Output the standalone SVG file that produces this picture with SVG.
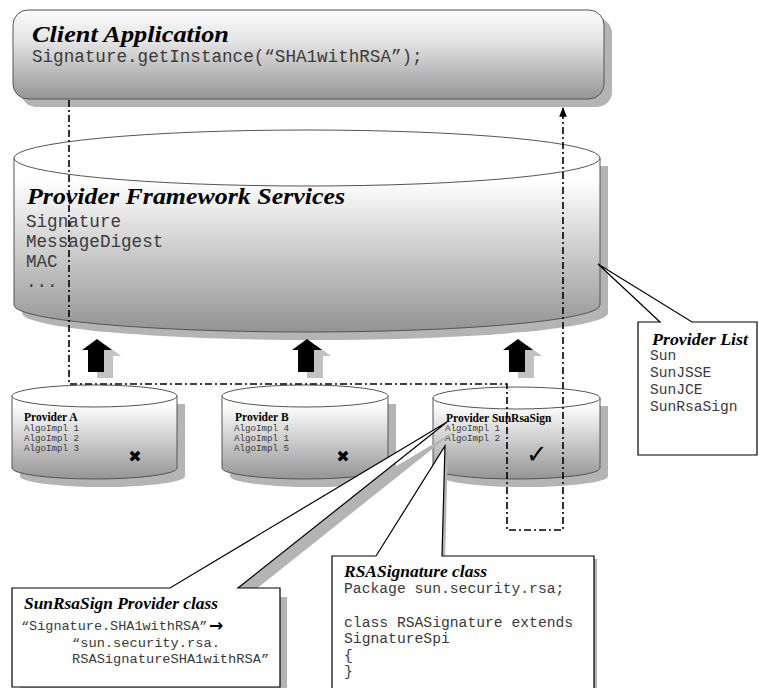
<svg xmlns="http://www.w3.org/2000/svg" width="759" height="688" viewBox="0 0 759 688">
  <defs>
    <style>
      .title { font-family: "Liberation Serif", "DejaVu Serif", serif; font-style: italic; font-weight: bold; fill: #000; }
      .ptitle { font-family: "Liberation Serif", "DejaVu Serif", serif; font-weight: bold; fill: #000; }
      .mono { font-family: "Liberation Mono", "DejaVu Sans Mono", monospace; fill: #3a3a3a; }
      .edge { stroke: #555; stroke-width: 1; }
      .shadow { fill: #b4b4b4; stroke: none; }
      .callout { fill: #fff; stroke: #000; stroke-width: 1.2; }
      .flow { fill: none; stroke: #000; stroke-width: 1.6; stroke-dasharray: 7 3 2 3; }
      .block { fill: #000; }
      .blockShadow { fill: #c2c2c2; }
      .mark { font-family: "DejaVu Sans", sans-serif; font-weight: bold; fill: #000; }
    </style>
    <linearGradient id="gClient" x1="0" y1="0" x2="0" y2="1">
      <stop offset="0" stop-color="#fbfbfb"/>
      <stop offset="0.35" stop-color="#e4e4e4"/>
      <stop offset="1" stop-color="#959595"/>
    </linearGradient>
    <linearGradient id="gFramework" gradientUnits="userSpaceOnUse" x1="0" y1="180" x2="0" y2="332">
      <stop offset="0" stop-color="#ffffff"/>
      <stop offset="1" stop-color="#939393"/>
    </linearGradient>
    <linearGradient id="gProvider" gradientUnits="userSpaceOnUse" x1="0" y1="405" x2="0" y2="479">
      <stop offset="0" stop-color="#ffffff"/>
      <stop offset="1" stop-color="#959595"/>
    </linearGradient>
    <marker id="headUp" viewBox="0 0 10 10" refX="9" refY="5" markerWidth="6" markerHeight="6" orient="auto" markerUnits="strokeWidth">
      <path d="M0,1 L10,5 L0,9 z" fill="#000"/>
    </marker>
  </defs>

  <!-- Client application -->
  <g id="client-application">
    <rect x="21" y="18" width="591" height="89" rx="15" ry="15" class="shadow"/>
    <rect x="13" y="10" width="591" height="89" rx="15" ry="15" fill="url(#gClient)" class="edge"/>
    <text x="32" y="42" class="title" font-size="24" textLength="197" lengthAdjust="spacingAndGlyphs">Client Application</text>
    <text x="32" y="62" class="mono" font-size="17.6">Signature.getInstance(“SHA1withRSA”);</text>
  </g>

  <!-- Provider framework services (large cylinder) -->
  <g id="provider-framework">
    <path d="M22,166 V313 A293,27 0 0 0 608,313 V166 Z" class="shadow"/>
    <path d="M14,158 V305 A293,27 0 0 0 600,305 V158 Z" fill="url(#gFramework)" class="edge"/>
    <ellipse cx="307" cy="158" rx="293" ry="28" fill="#fff" class="edge"/>
    <text x="27" y="204" class="title" font-size="24" textLength="318" lengthAdjust="spacingAndGlyphs">Provider Framework Services</text>
    <text x="26" y="227" class="mono" font-size="17.6">Signature</text>
    <text x="26" y="247" class="mono" font-size="17.6">MessageDigest</text>
    <text x="26" y="267" class="mono" font-size="17.6">MAC</text>
    <text x="26" y="287" class="mono" font-size="17.6">...</text>
  </g>

  <!-- Provider A -->
  <g id="provider-a">
    <path d="M20,404 V476 A82.5,11 0 0 0 185,476 V404 Z" class="shadow"/>
    <path d="M12,396 V468 A82.5,11 0 0 0 177,468 V396 Z" fill="url(#gProvider)" class="edge"/>
    <ellipse cx="94.5" cy="396" rx="82.5" ry="11" fill="#fff" class="edge"/>
    <text x="24" y="421" class="ptitle" font-size="11.5">Provider A</text>
    <text x="24" y="431" class="mono" font-size="9.2">AlgoImpl 1</text>
    <text x="24" y="441" class="mono" font-size="9.2">AlgoImpl 2</text>
    <text x="24" y="451" class="mono" font-size="9.2">AlgoImpl 3</text>
    <text x="135" y="462" class="mark" font-size="16" text-anchor="middle">✖</text>
  </g>

  <!-- Provider B -->
  <g id="provider-b">
    <path d="M230,404 V476 A83,11 0 0 0 396,476 V404 Z" class="shadow"/>
    <path d="M222,396 V468 A83,11 0 0 0 388,468 V396 Z" fill="url(#gProvider)" class="edge"/>
    <ellipse cx="305" cy="396" rx="83" ry="11" fill="#fff" class="edge"/>
    <text x="235" y="421" class="ptitle" font-size="11.5">Provider B</text>
    <text x="234" y="431" class="mono" font-size="9.2">AlgoImpl 4</text>
    <text x="234" y="441" class="mono" font-size="9.2">AlgoImpl 1</text>
    <text x="234" y="451" class="mono" font-size="9.2">AlgoImpl 5</text>
    <text x="343" y="462" class="mark" font-size="16" text-anchor="middle">✖</text>
  </g>

  <!-- Provider SunRsaSign -->
  <g id="provider-sunrsasign">
    <path d="M441,406 V476 A83.5,11 0 0 0 608,476 V406 Z" class="shadow"/>
    <path d="M433,398 V468 A83.5,11 0 0 0 600,468 V398 Z" fill="url(#gProvider)" class="edge"/>
    <ellipse cx="516.5" cy="398" rx="83.5" ry="11" fill="#fff" class="edge"/>
    <text x="446" y="422" class="ptitle" font-size="11.5">Provider SunRsaSign</text>
    <text x="445" y="431" class="mono" font-size="9.2">AlgoImpl 1</text>
    <text x="445" y="441" class="mono" font-size="9.2">AlgoImpl 2</text>
    <text x="537" y="463" class="mark" font-size="26" text-anchor="middle">✓</text>
  </g>

  <!-- Connectors: provider block arrows and request/response flow -->
  <g id="connectors">
    <g id="block-arrows">
      <polygon class="blockShadow" points="106,345 121,356 113,356 113,378 97,378 97,356 91,356"/>
      <polygon class="block" points="97,339 112,350 104,350 104,372 88,372 88,350 82,350"/>
      <polygon class="blockShadow" points="316,345 331,356 323,356 323,378 307,378 307,356 301,356"/>
      <polygon class="block" points="307,339 322,350 314,350 314,372 298,372 298,350 292,350"/>
      <polygon class="blockShadow" points="527,345 542,356 534,356 534,378 518,378 518,356 512,356"/>
      <polygon class="block" points="518,339 533,350 525,350 525,372 509,372 509,350 503,350"/>
    </g>
    <path class="flow" d="M69,100 V384 H507 V530 H563 V108" marker-end="url(#headUp)"/>
  </g>

  <!-- Provider list callout -->
  <g id="provider-list">
    <path class="callout" d="M638,322 H660 L598,264 L692,322 H757 V455 H638 Z"/>
    <text x="652" y="345" class="title" font-size="16" textLength="96" lengthAdjust="spacingAndGlyphs">Provider List</text>
    <text x="650" y="360" class="mono" font-size="14.6">Sun</text>
    <text x="650" y="377" class="mono" font-size="14.6">SunJSSE</text>
    <text x="650" y="394" class="mono" font-size="14.6">SunJCE</text>
    <text x="650" y="411" class="mono" font-size="14.6">SunRsaSign</text>
  </g>

  <!-- SunRsaSign provider class callout -->
  <g id="sunrsasign-provider-class">
    <path class="shadow" d="M20,597 H178 L455,431 L246,597 H287 V696 H20 Z"/>
    <path class="callout" d="M12,588 H170 L447,422 L238,588 H280 V687 H12 Z"/>
    <text x="24" y="609" class="title" font-size="16" textLength="194" lengthAdjust="spacingAndGlyphs">SunRsaSign Provider class</text>
    <text x="21" y="630" class="mono" font-size="13.5">“Signature.SHA1withRSA”</text>
    <text x="209" y="631" class="mark" font-size="17">→</text>
    <text x="72" y="647" class="mono" font-size="13.7">“sun.security.rsa.</text>
    <text x="72" y="663" class="mono" font-size="13.7">RSASignatureSHA1withRSA”</text>
  </g>

  <!-- RSASignature class callout -->
  <g id="rsasignature-class">
    <path class="shadow" d="M335,559 H379 L448,449 L445,559 H597 V693 H335 Z"/>
    <path class="callout" d="M332,556 H376 L445,446 L442,556 H594 V690 H332 Z"/>
    <text x="344" y="577" class="title" font-size="16" textLength="143" lengthAdjust="spacingAndGlyphs">RSASignature class</text>
    <text x="344" y="593" class="mono" font-size="14.7">Package sun.security.rsa;</text>
    <text x="344" y="627" class="mono" font-size="14.7">class RSASignature extends</text>
    <text x="344" y="643" class="mono" font-size="14.7">SignatureSpi</text>
    <text x="344" y="660" class="mono" font-size="14.7">{</text>
    <text x="344" y="676" class="mono" font-size="14.7">}</text>
  </g>
</svg>
